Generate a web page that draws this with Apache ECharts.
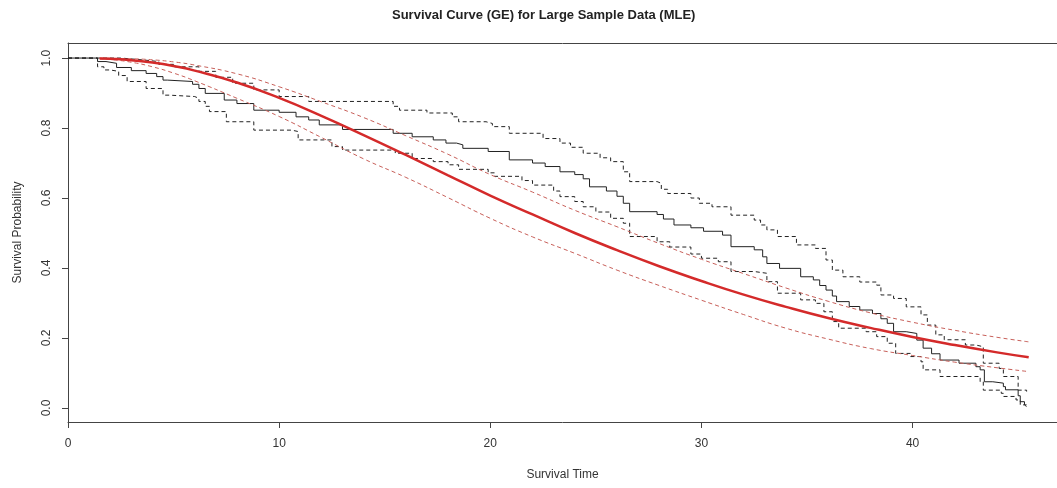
<!DOCTYPE html>
<html><head><meta charset="utf-8">
<script src="https://cdn.jsdelivr.net/npm/echarts@6/dist/echarts.min.js"></script>
<style>html,body{margin:0;padding:0;background:#fff}#c{width:1057px;height:488px}</style>
</head><body><div id="c"></div>
<script>
// ---- tick labels ----
const xTicks = [0, 10, 20, 30, 40];
const yTicks = [0, 0.2, 0.4, 0.6, 0.8, 1.0];

// ---- Kaplan-Meier estimate (step function: time of drop, value after drop) ----
const kmTime = [0, 1.4, 1.8, 2.3, 3.0, 3.7, 4.2, 4.5, 4.7, 5.9, 6.2, 6.5, 7.4, 8.0, 8.8, 10.0, 10.8, 11.4, 11.9, 13.0, 15.4, 16.3, 17.3, 17.9, 18.4, 18.7, 19.9, 20.9, 22.0, 22.6, 23.3, 24.0, 24.4, 24.7, 25.5, 26.0, 26.3, 26.6, 27.9, 28.2, 28.7, 29.5, 30.1, 31.0, 31.4, 32.5, 32.9, 33.1, 33.7, 34.7, 35.3, 35.6, 35.9, 36.2, 36.4, 37.0, 37.5, 38.1, 38.5, 38.8, 39.1, 39.7, 40.2, 40.5, 40.9, 41.3, 42.2, 43.0, 43.2, 43.4, 43.8, 44.3, 44.4, 45.0, 45.1, 45.3, 45.4];
const kmSurv = [1.0, 0.99, 0.985, 0.973, 0.964, 0.956, 0.947, 0.937, 0.933, 0.925, 0.913, 0.899, 0.88, 0.87, 0.851, 0.845, 0.832, 0.823, 0.809, 0.796, 0.785, 0.775, 0.766, 0.757, 0.752, 0.742, 0.733, 0.709, 0.70, 0.69, 0.675, 0.667, 0.655, 0.632, 0.62, 0.605, 0.585, 0.561, 0.553, 0.54, 0.523, 0.515, 0.505, 0.494, 0.461, 0.452, 0.432, 0.413, 0.399, 0.375, 0.366, 0.35, 0.337, 0.32, 0.304, 0.29, 0.28, 0.27, 0.255, 0.242, 0.218, 0.213, 0.194, 0.171, 0.155, 0.137, 0.128, 0.118, 0.109, 0.075, 0.071, 0.061, 0.052, 0.035, 0.018, 0.009, 0.009];

// ---- KM upper confidence limit ----
const kmUpTime = [0, 2.5, 3.5, 4.3, 5.0, 6.2, 7.0, 7.8, 8.8, 10.0, 11.4, 15.4, 15.7, 17.0, 18.2, 18.5, 19.8, 20.1, 20.9, 22.5, 23.3, 23.8, 24.4, 25.2, 25.7, 26.3, 26.6, 27.9, 28.1, 28.4, 29.5, 29.9, 30.5, 31.4, 32.5, 32.8, 33.1, 33.6, 34.5, 35.4, 35.9, 36.2, 36.7, 37.5, 38.3, 38.5, 39.1, 39.7, 40.4, 40.7, 41.1, 41.5, 42.5, 43.0, 43.35, 44.1, 44.3, 45.0, 45.4];
const kmUpSurv = [1.0, 0.995, 0.99, 0.982, 0.975, 0.962, 0.945, 0.928, 0.909, 0.89, 0.876, 0.862, 0.851, 0.843, 0.832, 0.818, 0.813, 0.804, 0.785, 0.77, 0.757, 0.745, 0.728, 0.715, 0.704, 0.675, 0.647, 0.642, 0.625, 0.613, 0.60, 0.585, 0.575, 0.551, 0.537, 0.523, 0.509, 0.49, 0.466, 0.456, 0.423, 0.394, 0.375, 0.36, 0.351, 0.323, 0.313, 0.289, 0.266, 0.237, 0.209, 0.195, 0.18, 0.175, 0.128, 0.113, 0.09, 0.051, 0.047];

// ---- KM lower confidence limit ----
const kmLoTime = [0, 1.4, 1.7, 2.0, 2.4, 2.8, 3.7, 4.5, 4.8, 6.0, 6.2, 6.5, 6.7, 7.5, 8.8, 10.6, 10.9, 12.5, 13.0, 15.5, 16.3, 17.3, 18.0, 18.5, 19.9, 20.2, 21.5, 22.0, 23.0, 23.3, 24.0, 24.4, 25.0, 25.7, 26.3, 26.6, 27.9, 28.5, 29.5, 30.0, 30.8, 31.4, 32.5, 33.1, 33.6, 34.7, 35.4, 35.8, 36.2, 36.5, 37.8, 38.3, 38.8, 39.2, 39.9, 40.4, 40.5, 41.3, 43.2, 43.35, 44.2, 44.3, 44.9, 45.1, 45.3, 45.4];
const kmLoSurv = [1.0, 0.975, 0.966, 0.962, 0.95, 0.933, 0.913, 0.894, 0.89, 0.885, 0.876, 0.862, 0.847, 0.818, 0.794, 0.79, 0.766, 0.747, 0.737, 0.728, 0.713, 0.704, 0.695, 0.682, 0.672, 0.662, 0.65, 0.637, 0.62, 0.604, 0.59, 0.575, 0.56, 0.542, 0.528, 0.49, 0.475, 0.46, 0.44, 0.428, 0.418, 0.39, 0.385, 0.361, 0.328, 0.309, 0.299, 0.275, 0.247, 0.228, 0.218, 0.204, 0.185, 0.156, 0.147, 0.132, 0.109, 0.09, 0.075, 0.051, 0.042, 0.033, 0.023, 0.009, 0.004, 0.004];

// ---- GE parametric (MLE) survival and its confidence band ----
const geTime  = [1.5, 2, 3, 4, 5, 6, 8, 10, 12, 14, 16, 18, 20, 22, 24, 26, 28, 30, 32, 34, 36, 38, 40, 42, 44, 45.5];
const geSurv  = [0.999, 0.998, 0.994, 0.987, 0.977, 0.964, 0.930, 0.886, 0.835, 0.780, 0.723, 0.665, 0.607, 0.553, 0.500, 0.451, 0.405, 0.363, 0.324, 0.289, 0.257, 0.229, 0.203, 0.180, 0.159, 0.145];
const geUpper = [1.000, 0.999, 0.998, 0.995, 0.989, 0.980, 0.955, 0.918, 0.875, 0.830, 0.778, 0.725, 0.667, 0.617, 0.565, 0.518, 0.470, 0.425, 0.384, 0.343, 0.305, 0.272, 0.245, 0.222, 0.202, 0.189];
const geLower = [0.998, 0.996, 0.988, 0.975, 0.957, 0.935, 0.885, 0.833, 0.773, 0.712, 0.659, 0.601, 0.542, 0.489, 0.442, 0.394, 0.350, 0.308, 0.267, 0.228, 0.197, 0.170, 0.150, 0.131, 0.115, 0.104];

const pair = (t, s) => t.map((v, i) => [v, s[i]]);
const font = '"Liberation Sans", Arial, sans-serif';
const axisCol = '#444';
const chart = echarts.init(document.getElementById('c'));

const stepSeries = (name, t, s, dashed) => ({
  name, type: 'line', step: 'end', data: pair(t, s), showSymbol: false, silent: true,
  lineStyle: { color: '#222', width: 1, type: dashed ? [4, 3] : 'solid' }
});
const geSeries = (name, s, width, color, dashed) => ({
  name, type: 'line', smooth: true, data: pair(geTime, s), showSymbol: false, silent: true,
  lineStyle: { color, width, type: dashed ? [4, 3] : 'solid' }
});

chart.setOption({
  animation: false,
  backgroundColor: '#fff',
  title: {
    text: 'Survival Curve (GE) for Large Sample Data (MLE)', left: 387, top: 4,
    textStyle: { fontSize: 13, fontWeight: 'bold', color: '#222', fontFamily: font }
  },
  grid: { left: 68, right: 0, top: 43, bottom: 66 },
  xAxis: [{
    type: 'value', min: 0, max: 46.84, interval: 10,
    name: 'Survival Time', nameLocation: 'middle', nameGap: 47,
    nameTextStyle: { fontSize: 12, color: '#333', fontFamily: font },
    axisLine: { onZero: false, lineStyle: { color: axisCol } },
    axisTick: { length: 6, customValues: xTicks, lineStyle: { color: axisCol } },
    axisLabel: { margin: 16, fontSize: 12, color: '#333', fontFamily: font, customValues: xTicks },
    splitLine: { show: false }
  }, {
    type: 'value', position: 'top', min: 0, max: 46.84,
    axisLine: { show: true, onZero: false, lineStyle: { color: axisCol } },
    axisTick: { show: false }, axisLabel: { show: false }, splitLine: { show: false }
  }],
  yAxis: {
    type: 'value', min: -0.04, max: 1.043,
    name: 'Survival Probability', nameLocation: 'middle', nameGap: 44,
    nameTextStyle: { fontSize: 12, color: '#333', fontFamily: font },
    axisLine: { show: true, onZero: false, lineStyle: { color: axisCol } },
    axisTick: { show: true, length: 6, customValues: yTicks, lineStyle: { color: axisCol } },
    axisLabel: { customValues: yTicks, rotate: 90, margin: 15, fontSize: 12, color: '#333', fontFamily: font,
      formatter: v => Number(v).toFixed(1) },
    splitLine: { show: false }
  },
  series: [
    stepSeries('KM', kmTime, kmSurv, false),
    stepSeries('KM upper', kmUpTime, kmUpSurv, true),
    stepSeries('KM lower', kmLoTime, kmLoSurv, true),
    geSeries('GE upper', geUpper, 1, '#c8605a', true),
    geSeries('GE lower', geLower, 1, '#c8605a', true),
    geSeries('GE', geSurv, 2.5, '#d42a2a', false)
  ]
});
</script></body></html>
